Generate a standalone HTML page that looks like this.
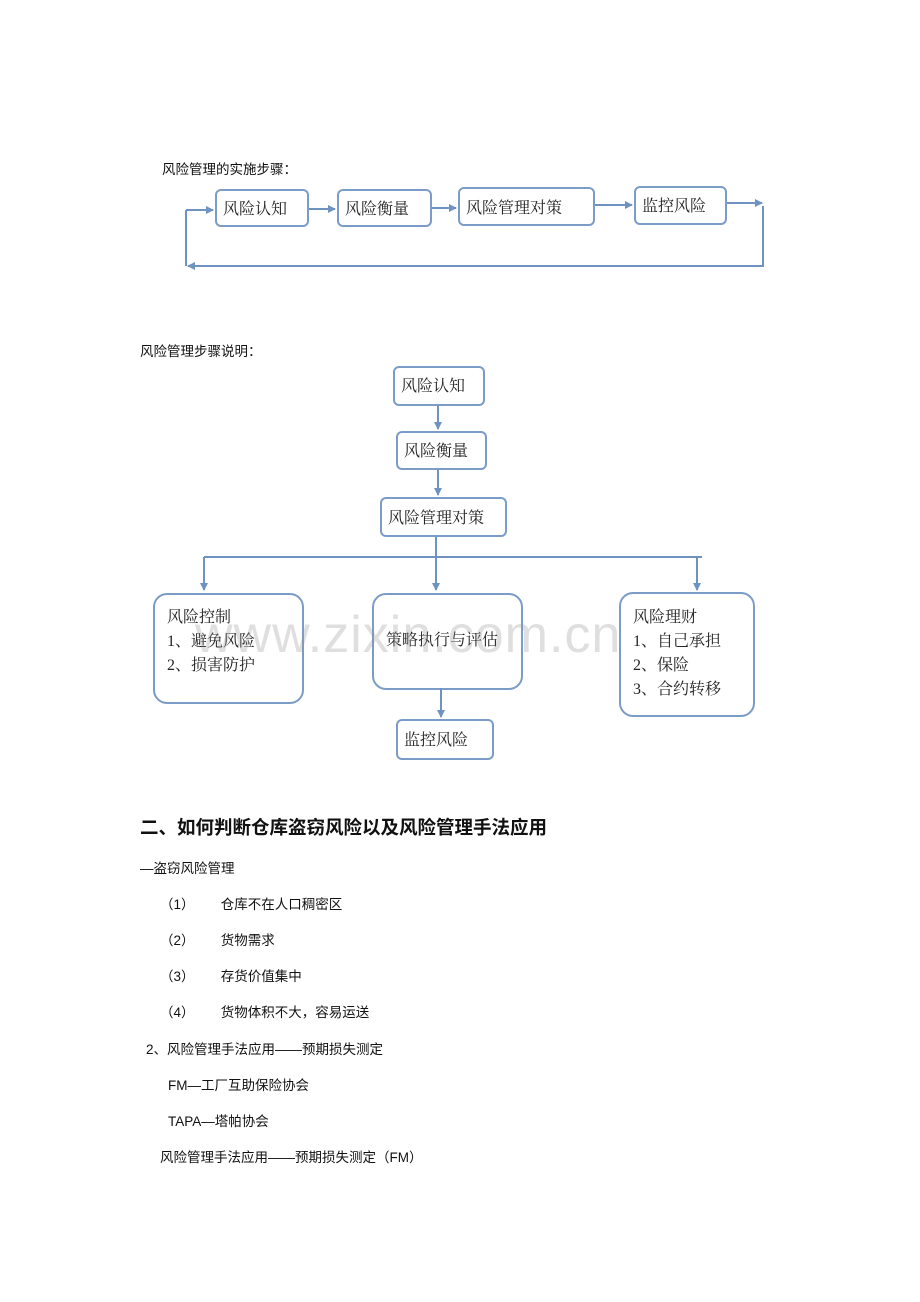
<!DOCTYPE html>
<html><head><meta charset="utf-8"><style>
body{margin:0;width:920px;height:1302px;background:#fff;position:relative;font-family:"Liberation Sans","Noto Sans CJK SC",sans-serif;color:#111;overflow:hidden}
.t{position:absolute;font-size:13.5px;white-space:nowrap}
.b{position:absolute;border:2px solid #7a9cc6;border-radius:6px;box-sizing:border-box;font-family:"Liberation Serif","Noto Serif CJK SC",serif;font-size:16px;padding-left:6px;line-height:24px;color:#222}
.big{border-radius:14px;padding-left:12px}
</style></head><body>
<div class="t" style="left:162px;top:158px">风险管理的实施步骤：</div>
<div class="b" style="left:215px;top:189px;width:94px;height:38px;padding-top:7px">风险认知</div>
<div class="b" style="left:337px;top:189px;width:95px;height:38px;padding-top:7px">风险衡量</div>
<div class="b" style="left:458px;top:187px;width:137px;height:39px;padding-top:8px">风险管理对策</div>
<div class="b" style="left:634px;top:186px;width:93px;height:39px;padding-top:7px">监控风险</div>

<div class="t" style="left:140px;top:340px">风险管理步骤说明：</div>
<div class="b" style="left:393px;top:366px;width:92px;height:40px;padding-top:7px">风险认知</div>
<div class="b" style="left:396px;top:431px;width:91px;height:39px;padding-top:7px">风险衡量</div>
<div class="b" style="left:380px;top:497px;width:127px;height:40px;padding-top:8px">风险管理对策</div>
<div class="b big" style="left:153px;top:593px;width:151px;height:111px;padding-top:11px">风险控制<br>1、避免风险<br>2、损害防护</div>
<div class="b big" style="left:372px;top:593px;width:151px;height:97px;padding-top:34px">策略执行与评估</div>
<div class="b big" style="left:619px;top:592px;width:136px;height:125px;padding-top:12px">风险理财<br>1、自己承担<br>2、保险<br>3、合约转移</div>
<div class="b" style="left:396px;top:719px;width:98px;height:41px;padding-top:8px">监控风险</div>
<div style="position:absolute;left:195px;top:605px;font-size:52px;color:rgba(150,150,150,0.3);font-family:'Liberation Sans',sans-serif;letter-spacing:1px">www.zixin.com.cn</div>

<svg width="920" height="1302" style="position:absolute;left:0;top:0" fill="none" stroke="#6f93c0" stroke-width="2">
<defs><marker id="a" markerWidth="8" markerHeight="8" refX="7" refY="4" orient="auto" markerUnits="userSpaceOnUse"><path d="M0,0L8,4L0,8z" fill="#6f93c0" stroke="none"/></marker></defs>
<path d="M186,210H213" marker-end="url(#a)"/>
<path d="M309,209H335" marker-end="url(#a)"/>
<path d="M432,208H456" marker-end="url(#a)"/>
<path d="M595,205H632" marker-end="url(#a)"/>
<path d="M727,203H762" marker-end="url(#a)"/>
<path d="M763,206V266H188" marker-end="url(#a)"/>
<path d="M186,210V266"/>
<path d="M438,406V429" marker-end="url(#a)"/>
<path d="M438,470V495" marker-end="url(#a)"/>
<path d="M436,537V590" marker-end="url(#a)"/>
<path d="M204,557H702"/>
<path d="M204,557V590" marker-end="url(#a)"/>
<path d="M697,557V590" marker-end="url(#a)"/>
<path d="M441,688V717" marker-end="url(#a)"/>
</svg>

<div class="t" style="left:140px;top:814px;font-size:18.5px;font-weight:bold">二、如何判断仓库盗窃风险以及风险管理手法应用</div>
<div class="t" style="left:140px;top:857px">—盗窃风险管理</div>
<div class="t" style="left:160px;top:893px">（1）&nbsp;&nbsp;&nbsp;&nbsp;&nbsp;&nbsp;&nbsp;仓库不在人口稠密区</div>
<div class="t" style="left:160px;top:929px">（2）&nbsp;&nbsp;&nbsp;&nbsp;&nbsp;&nbsp;&nbsp;货物需求</div>
<div class="t" style="left:160px;top:965px">（3）&nbsp;&nbsp;&nbsp;&nbsp;&nbsp;&nbsp;&nbsp;存货价值集中</div>
<div class="t" style="left:160px;top:1001px">（4）&nbsp;&nbsp;&nbsp;&nbsp;&nbsp;&nbsp;&nbsp;货物体积不大，容易运送</div>
<div class="t" style="left:146px;top:1038px">2、风险管理手法应用——预期损失测定</div>
<div class="t" style="left:168px;top:1074px">FM—工厂互助保险协会</div>
<div class="t" style="left:168px;top:1110px">TAPA—塔帕协会</div>
<div class="t" style="left:160px;top:1146px">风险管理手法应用——预期损失测定（FM）</div>
</body></html>
